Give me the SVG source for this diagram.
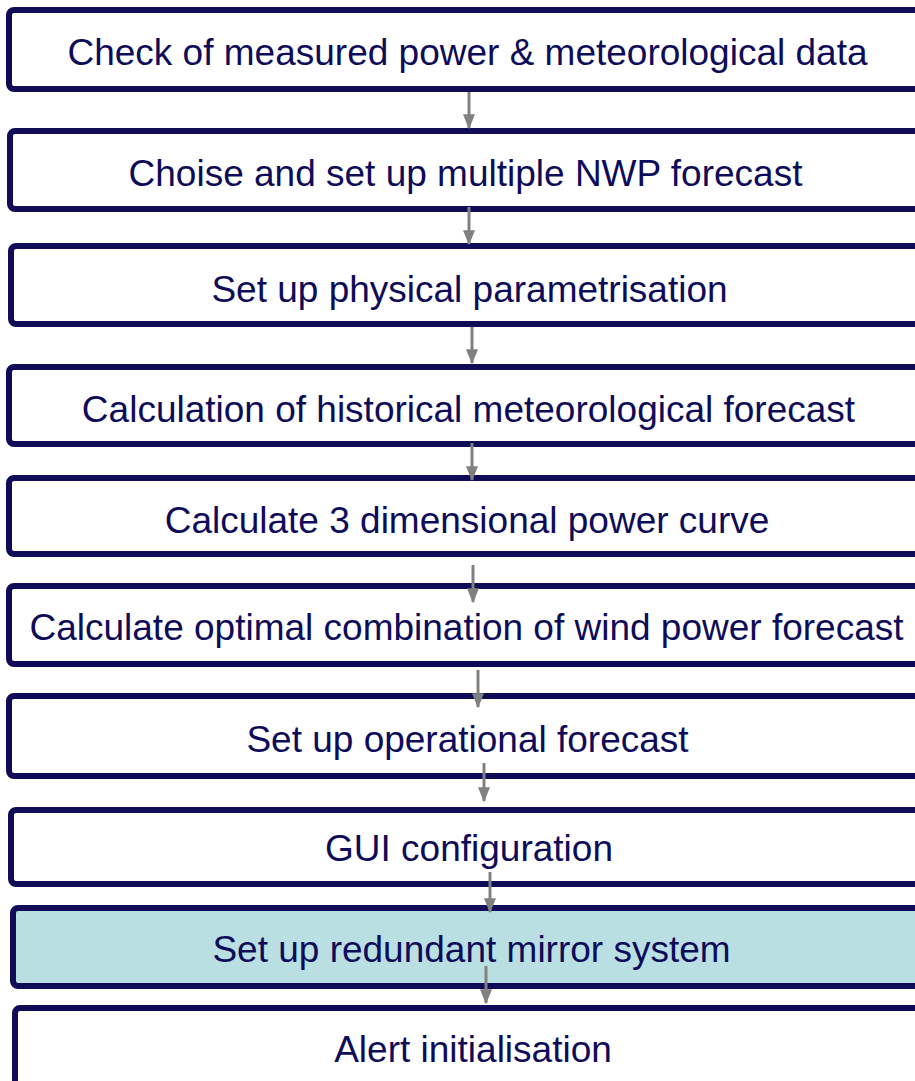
<svg xmlns="http://www.w3.org/2000/svg" width="915" height="1081" viewBox="0 0 915 1081">
<defs>
<style>
.box{fill:#ffffff;stroke:#100c58;stroke-width:6}
.hl{fill:#b9dfe3}
.lbl{font-family:"Liberation Sans",Arial,sans-serif;font-size:37px;fill:#0e0c5a;text-anchor:middle}
.con{stroke:#808080;stroke-width:3;fill:none;marker-end:url(#ah)}
</style>
<marker id="ah" markerWidth="5" markerHeight="4" refX="4.6" refY="2" orient="auto" markerUnits="strokeWidth">
<path d="M0,0 L5,2 L0,4 Z" fill="#808080"/>
</marker>
</defs>
<rect width="915" height="1081" fill="#ffffff"/>
<g id="n1"><rect class="box" x="9" y="10" width="930" height="79" rx="5"/><text class="lbl" x="467.5" y="65">Check of measured power &amp; meteorological data</text></g>
<g id="n2"><rect class="box" x="10" y="131" width="930" height="78" rx="5"/><text class="lbl" x="465.5" y="186">Choise and set up multiple NWP forecast</text></g>
<g id="n3"><rect class="box" x="11" y="246" width="930" height="78" rx="5"/><text class="lbl" x="469.5" y="302">Set up physical parametrisation</text></g>
<g id="n4"><rect class="box" x="9" y="367" width="930" height="77" rx="5"/><text class="lbl" x="468.5" y="422">Calculation of historical meteorological forecast</text></g>
<g id="n5"><rect class="box" x="9" y="478" width="930" height="76" rx="5"/><text class="lbl" x="467" y="533">Calculate 3 dimensional power curve</text></g>
<g id="n6"><rect class="box" x="9" y="586" width="930" height="78" rx="5"/><text class="lbl" x="466.5" y="640">Calculate optimal combination of wind power forecast</text></g>
<g id="n7"><rect class="box" x="9" y="696" width="930" height="80" rx="5"/><text class="lbl" x="467.5" y="752">Set up operational forecast</text></g>
<g id="n8"><rect class="box" x="11" y="810" width="930" height="74" rx="5"/><text class="lbl" x="469" y="861">GUI configuration</text></g>
<g id="n9"><rect class="box hl" x="13" y="908" width="930" height="78" rx="5"/><text class="lbl" x="471.5" y="962">Set up redundant mirror system</text></g>
<g id="n10"><rect class="box" x="15" y="1008" width="930" height="100" rx="5"/><text class="lbl" x="473" y="1062">Alert initialisation</text></g>
<g id="connectors">
<line class="con" x1="469" y1="92" x2="469" y2="128"/>
<line class="con" x1="469" y1="207" x2="469" y2="244"/>
<line class="con" x1="472" y1="327" x2="472" y2="363"/>
<line class="con" x1="472" y1="443" x2="472" y2="480"/>
<line class="con" x1="473" y1="565" x2="473" y2="602"/>
<line class="con" x1="478" y1="670" x2="478" y2="707"/>
<line class="con" x1="484" y1="763" x2="484" y2="801"/>
<line class="con" x1="490" y1="872" x2="490" y2="912"/>
<line class="con" x1="486" y1="966" x2="486" y2="1003"/>
</g>
</svg>
